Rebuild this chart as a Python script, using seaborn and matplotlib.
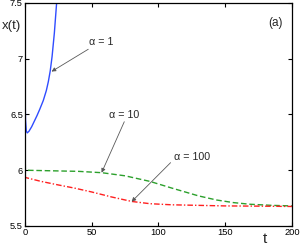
import matplotlib
matplotlib.use("Agg")
import matplotlib.pyplot as plt
import seaborn as sns

# alpha = 1
t_blue = [0, 0.4, 1, 1.7, 3, 5, 7, 9, 11, 13.7, 16, 17.5, 18.9, 20.3, 22, 23.7, 25.5]
x_blue = [6.72, 6.45, 6.35, 6.335, 6.35, 6.39, 6.44, 6.49, 6.545, 6.625, 6.715, 6.795, 6.89, 7.02, 7.23, 7.5, 7.8]

# alpha = 10
t_green = [0, 0.3, 20, 40, 57.5, 75, 93.6, 110, 118.6, 130, 143.6, 156, 168.5, 185, 200]
x_green = [6.35, 6.0, 5.995, 5.99, 5.978, 5.95, 5.90, 5.84, 5.81, 5.77, 5.733, 5.71, 5.695, 5.685, 5.68]

# alpha = 100
t_red = [0, 0.3, 12, 25, 37, 50, 65, 80, 93.6, 110, 130, 150, 175, 200]
x_red = [6.35, 5.935, 5.90, 5.868, 5.84, 5.805, 5.76, 5.72, 5.70, 5.69, 5.685, 5.68, 5.678, 5.675]

x_ticks = [0, 50, 100, 150, 200]
y_ticks = [5.5, 6, 6.5, 7, 7.5]

sns.set_style("ticks")
plt.rcParams['font.family'] = ['Liberation Sans', 'DejaVu Sans']

fig = plt.figure(figsize=(3.0, 2.45), dpi=100)
ax = fig.add_axes([0.0833, 0.0776, 0.8897, 0.9102])

sns.lineplot(x=t_blue, y=x_blue, ax=ax, color='#2f4cff', lw=1.0, sort=False)
sns.lineplot(x=t_green, y=x_green, ax=ax, color='#2ca02c', lw=1.0, sort=False, linestyle=(0, (4, 2)))
sns.lineplot(x=t_red, y=x_red, ax=ax, color='#ff2020', lw=1.0, sort=False, linestyle=(0, (4, 1.5, 1, 1.5)))

ax.set_xlim(0, 200)
ax.set_ylim(5.5, 7.5)
ax.set_xticks(x_ticks)
ax.set_xticklabels([str(v) for v in x_ticks])
ax.set_yticks(y_ticks)
ax.set_yticklabels([f"{v:g}" for v in y_ticks])
ax.tick_params(direction='in', length=3, width=0.8, labelsize=6.7, top=True, right=True, pad=1.5, colors='black')
for s in ax.spines.values():
    s.set_linewidth(0.9)
    s.set_color('black')

ax.set_ylabel("x(t)", rotation=0, fontsize=9.5)
ax.yaxis.set_label_coords(-0.052, 0.87)
ax.set_xlabel("")
ax.text(0.899, -0.058, "t", transform=ax.transAxes, fontsize=11, ha='center', va='center')

arrow = dict(arrowstyle='-|>', color='0.35', lw=0.6, mutation_scale=6, shrinkA=0, shrinkB=0)
ax.annotate("", xy=(19.9, 6.885), xytext=(47.4, 7.085), arrowprops=arrow)
ax.annotate("", xy=(57.4, 5.978), xytext=(74.4, 6.435), arrowprops=arrow)
ax.annotate("", xy=(79.9, 5.718), xytext=(109.1, 6.068), arrowprops=arrow)

ax.text(57.4, 7.153, "α = 1", fontsize=7.7, ha='center', va='center')
ax.text(74.3, 6.496, "α = 10", fontsize=7.7, ha='center', va='center')
ax.text(124.9, 6.122, "α = 100", fontsize=7.7, ha='center', va='center')
ax.text(188, 7.32, "(a)", fontsize=8.5, ha='center', va='center')

fig.savefig("out.png", dpi=100)
